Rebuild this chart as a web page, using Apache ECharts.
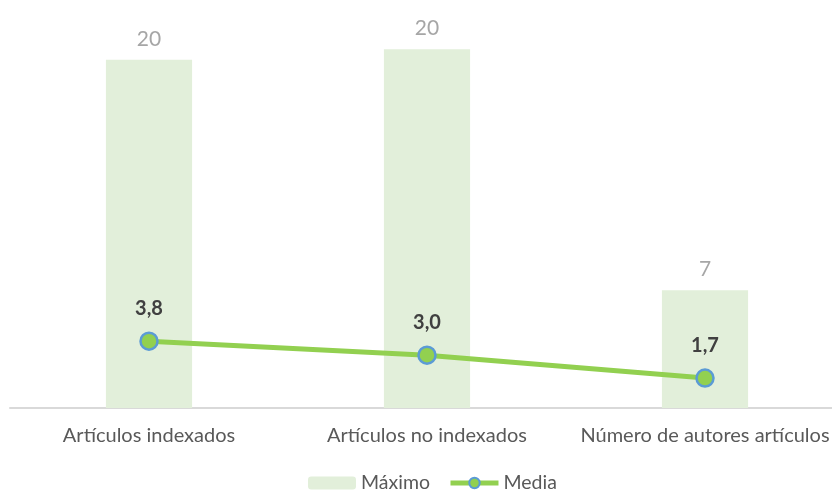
<!DOCTYPE html>
<html>
<head>
<meta charset="utf-8">
<script src="https://cdn.jsdelivr.net/npm/echarts@6/dist/echarts.min.js"></script>
<style>
html,body{margin:0;padding:0;background:#fff;}
#main{width:832px;height:493px;}
</style>
</head>
<body>
<div id="main"></div>
<script>
var categories = ['Artículos indexados', 'Artículos no indexados', 'Número de autores artículos'];
var maximoValues = [19.8, 20.4, 6.7];
var mediaValues = [3.8, 3.0, 1.7];
var seriesNames = ['Máximo', 'Media'];

var FONT = "Lato, 'Open Sans', sans-serif";
var chart = echarts.init(document.getElementById('main'), null, {renderer: 'canvas'});
chart.setOption({
  animation: false,
  textStyle: {fontFamily: FONT},
  grid: {left: 10, width: 834, top: 21, height: 387, containLabel: false, outerBoundsMode: 'none'},
  legend: {
    data: seriesNames,
    top: 468,
    left: 303,
    itemWidth: 48,
    itemHeight: 13,
    itemGap: 18,
    lineStyle: {width: 5},
    textStyle: {fontFamily: FONT, fontSize: 19.5, color: '#595959'}
  },
  xAxis: {
    type: 'category',
    data: categories,
    axisLine: {lineStyle: {color: '#D9D9D9', width: 2}},
    axisTick: {show: false},
    axisLabel: {fontFamily: FONT, fontSize: 20, color: '#595959', margin: 18, interval: 0}
  },
  yAxis: {
    type: 'value',
    min: 0,
    max: 22,
    show: false,
    splitLine: {show: false}
  },
  series: [
    {
      name: seriesNames[0],
      type: 'bar',
      data: maximoValues,
      barWidth: '31%',
      itemStyle: {color: '#E2EFDA'},
      label: {
        show: true,
        position: 'top',
        distance: 10,
        fontFamily: FONT,
        fontSize: 21,
        color: '#A6A6A6',
        formatter: function (p) { return Math.round(p.value).toString(); }
      }
    },
    {
      name: seriesNames[1],
      type: 'line',
      data: mediaValues,
      symbol: 'circle',
      symbolSize: 17,
      lineStyle: {color: '#92D050', width: 5},
      itemStyle: {color: '#92D050', borderColor: '#5B9BD5', borderWidth: 2.5},
      label: {
        show: true,
        position: 'top',
        distance: 13,
        fontFamily: FONT,
        fontSize: 20,
        fontWeight: 'bold',
        color: '#404040',
        formatter: function (p) { return p.value.toFixed(1).replace('.', ','); }
      }
    }
  ]
});
</script>
</body>
</html>
